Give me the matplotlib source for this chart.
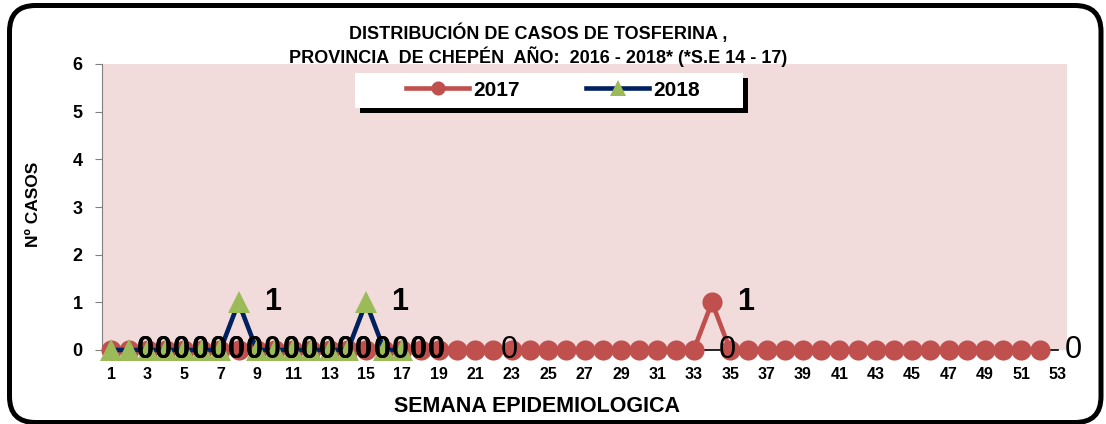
import matplotlib

matplotlib.use("Agg")
import matplotlib.pyplot as plt
from matplotlib.patches import FancyBboxPatch, Rectangle
from matplotlib.transforms import IdentityTransform

plt.rcParams["font.family"] = ["Liberation Sans", "DejaVu Sans"]

WEEKS_2016 = list(range(1, 54))
CASES_2016 = [0] * 53
LABELS_2016 = {23: "0", 35: "0", 53: "0"}

WEEKS_2017 = list(range(1, 53))
CASES_2017 = [0] * 33 + [1] + [0] * 18
LABELED_2017 = list(range(1, 18)) + [34]

WEEKS_2018 = list(range(1, 18))
CASES_2018 = [0, 0, 0, 0, 0, 0, 0, 1, 0, 0, 0, 0, 0, 0, 1, 0, 0]

X_TICKS = list(range(1, 54, 2))
Y_TICKS = [0, 1, 2, 3, 4, 5, 6]

RED = "#C0504D"
NAVY = "#002060"
GREEN = "#9BBB59"
PINK = "#F2DCDB"

W, H = 1106, 424
fig = plt.figure(figsize=(W / 100, H / 100), dpi=100)

# rounded chart border (pixel coordinates)
border = FancyBboxPatch((9.5, 1.5), 1091.5, 417,
                        boxstyle="round,pad=0,rounding_size=26",
                        transform=IdentityTransform(), fill=False,
                        edgecolor="black", linewidth=3.6, zorder=0)
fig.patches.append(border)

ax = fig.add_axes([102 / W, 1 - 350 / H, 965 / W, 286 / H])
ax.set_facecolor(PINK)
for side in ("top", "right", "bottom"):
    ax.spines[side].set_visible(False)
ax.spines["left"].set_color("#808080")
ax.spines["left"].set_linewidth(0.8)

ax.plot(WEEKS_2016, CASES_2016, color="black", linewidth=1.2, zorder=2, clip_on=False)
ax.plot(WEEKS_2017, CASES_2017, color=RED, linewidth=3.3, marker="o", markersize=14.5,
        markeredgewidth=0, zorder=3, clip_on=False, label="2017")
ax.plot(WEEKS_2018, CASES_2018, color=NAVY, linewidth=3.3, marker="^", markersize=15.5,
        markerfacecolor=GREEN, markeredgewidth=0, zorder=4, clip_on=False, label="2018")

# data labels
label_style = dict(textcoords="offset points", ha="center", va="center",
                   fontsize=22, fontweight="bold", zorder=6, annotation_clip=False)
for wk in LABELED_2017:
    val = CASES_2017[wk - 1]
    ax.annotate(str(val), (wk, val), xytext=(24.5, 0), **label_style)
for wk, val in zip(WEEKS_2018, CASES_2018):
    ax.annotate(str(val), (wk, val), xytext=(24.5, 0), **label_style)
for wk, txt in LABELS_2016.items():
    dx = 11 if wk == 53 else -2
    ax.annotate(txt, (wk, CASES_2016[wk - 1]), xytext=(dx, 0), textcoords="offset points",
                ha="center", va="center", fontsize=22, zorder=6, annotation_clip=False)

ax.set_xlim(0.5, 53.5)
ax.set_ylim(0, 6)
ax.set_xticks(X_TICKS)
ax.set_xticklabels([str(t) for t in X_TICKS], fontsize=11.5, fontweight="bold")
ax.tick_params(axis="x", length=0, pad=12)
ax.set_yticks(Y_TICKS)
ax.set_yticklabels([str(t) for t in Y_TICKS], fontsize=13, fontweight="bold")
ax.tick_params(axis="y", length=5, color="#808080", pad=9)

fig.text(538 / W, 1 - 33 / H, "DISTRIBUCIÓN DE CASOS DE TOSFERINA ,",
         ha="center", va="center", fontsize=13, fontweight="bold")
fig.text(538 / W, 1 - 57 / H, "PROVINCIA  DE CHEPÉN  AÑO:  2016 - 2018* (*S.E 14 - 17)",
         ha="center", va="center", fontsize=13, fontweight="bold")
fig.text(537 / W, 1 - 407 / H, "SEMANA EPIDEMIOLOGICA",
         ha="center", va="center", fontsize=15.5, fontweight="bold")
fig.text(34 / W, 1 - 204 / H, "Nº CASOS", rotation=90,
         ha="center", va="center", fontsize=12.5, fontweight="bold")

# legend box with shadow
fig.patches.append(Rectangle((360 / W, 1 - 113 / H), 388 / W, 35 / H,
                             transform=fig.transFigure, facecolor="black",
                             edgecolor="none", zorder=5))
fig.patches.append(Rectangle((355 / W, 1 - 108 / H), 388 / W, 35 / H,
                             transform=fig.transFigure, facecolor="white",
                             edgecolor="none", zorder=5))
leg = fig.legend(loc="center", bbox_to_anchor=(553 / W, 1 - 90 / H), ncol=2,
                 frameon=False, prop={"size": 15, "weight": "bold"},
                 handlelength=3.0, handletextpad=0.2, columnspacing=3.2,
                 markerscale=0.7)
leg.set_zorder(6)

fig.savefig("out.png", dpi=100)
